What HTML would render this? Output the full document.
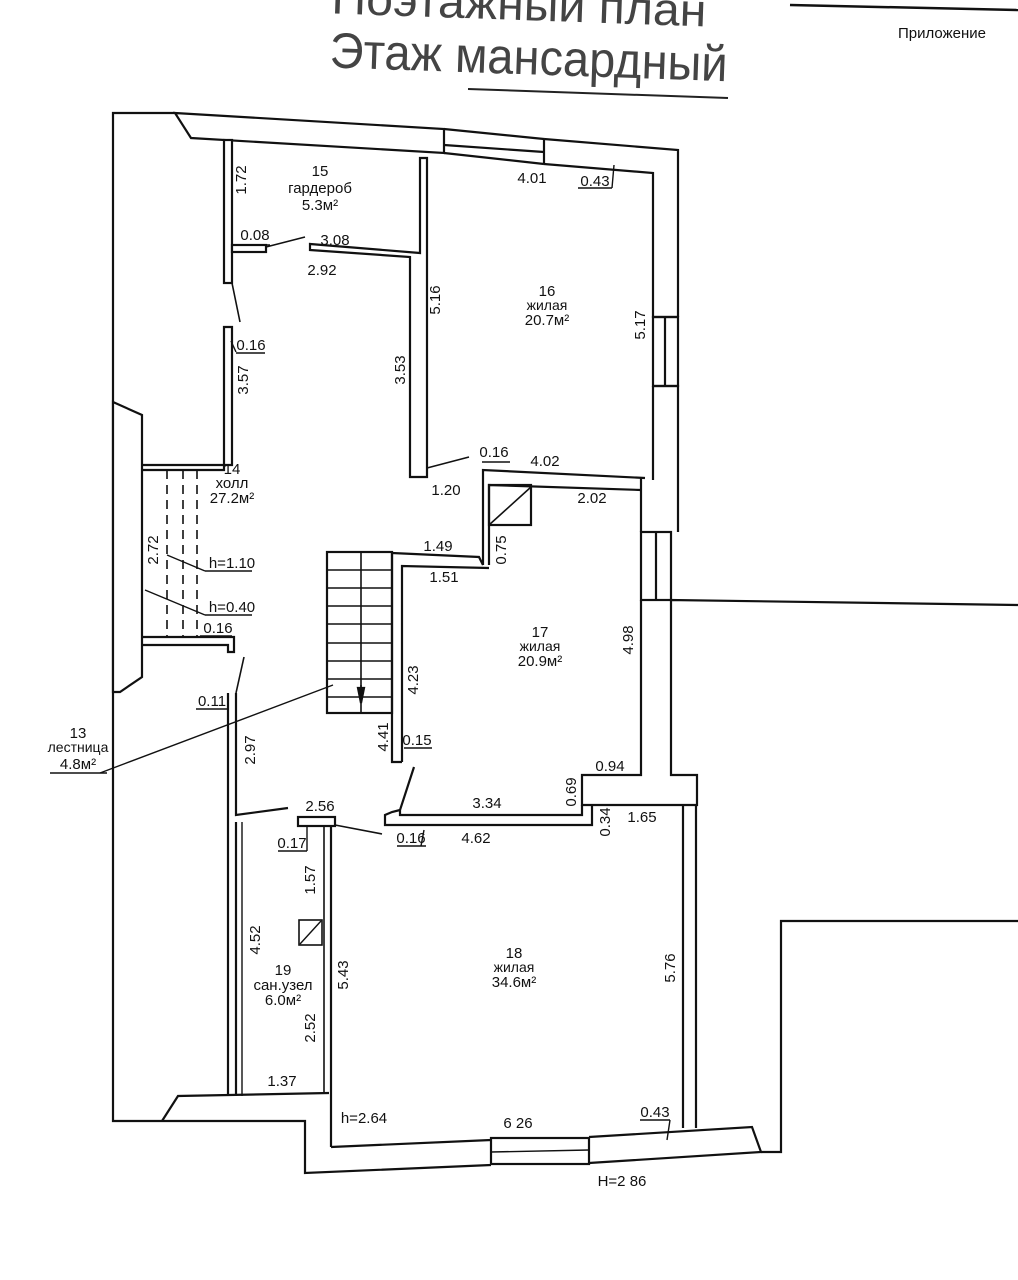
<!DOCTYPE html>
<html><head><meta charset="utf-8"><style>
html,body{margin:0;padding:0;background:#fff;}
svg{display:block;}
text{font-family:"Liberation Sans","DejaVu Sans",sans-serif;fill:#111;}
.t{font-size:15px;text-anchor:middle;}
.s{font-size:14px;text-anchor:middle;}
</style></head><body>
<svg width="1018" height="1280" viewBox="0 0 1018 1280" xmlns="http://www.w3.org/2000/svg">
<g fill="none" stroke="#111" stroke-width="2.2" stroke-linejoin="miter">
<line x1="790" y1="5" x2="1018" y2="10" stroke-width="2.5"/>
<polyline points="175,113 113,113 113,1121 162,1121"/>
<polygon points="175,113 444,129 444,153 191,138" fill="#fff"/>
<line x1="444" y1="129" x2="544" y2="139"/>
<line x1="444" y1="145" x2="544" y2="152"/>
<line x1="444" y1="153" x2="544" y2="164"/>
<line x1="544" y1="139" x2="544" y2="164"/>
<polyline points="544,139 678,150 678,317"/>
<polyline points="544,164 653,173 653,317 678,317"/>
<rect x="653" y="317" width="25" height="69"/>
<line x1="665" y1="317" x2="665" y2="386"/>
<polyline points="653,386 678,386 678,532"/>
<polyline points="653,386 653,480"/>
<line x1="641" y1="478" x2="641" y2="532"/>
<rect x="641" y="532" width="30" height="68"/>
<line x1="656" y1="532" x2="656" y2="600"/>
<polyline points="641,600 641,775 582,775 582,805 697,805 697,775 671,775 671,600 1018,605"/>
<polyline points="761,1152 781,1152 781,921 1018,921"/>
<line x1="683" y1="805" x2="683" y2="1128"/>
<line x1="696" y1="805" x2="696" y2="1128"/>
<polygon points="113,402 142,415 142,677 120,692 113,692" fill="#fff"/>
<rect x="224" y="140" width="8" height="143" fill="#fff"/>
<polyline points="142,465 232,465 232,327 224,327 224,470 142,470"/>
<line x1="232" y1="283" x2="240" y2="322" stroke-width="1.6"/>
<rect x="232" y="245" width="34" height="7" fill="#fff"/>
<line x1="266" y1="247" x2="305" y2="237" stroke-width="1.6"/>
<polygon points="310,250 410,257 410,477 427,477 427,158 420,158 420,253 310,244" fill="#fff"/>
<line x1="427" y1="468" x2="469" y2="457" stroke-width="1.6"/>
<polyline points="483,565 483,470 645,478"/>
<polyline points="489,565 489,485 641,490"/>
<rect x="489" y="485" width="42" height="40"/>
<line x1="531" y1="487" x2="489" y2="525" stroke-width="1.6"/>
<polyline points="392,553 479,557 483,565"/>
<polyline points="402,762 402,566 489,568"/>
<polyline points="392,553 392,762 402,762"/>
<rect x="327" y="552" width="65" height="161"/>
<line x1="361" y1="552" x2="361" y2="713" stroke-width="1.6"/>
<g stroke-width="1.6">
<line x1="327" y1="570" x2="392" y2="570"/><line x1="327" y1="588" x2="392" y2="588"/>
<line x1="327" y1="606" x2="392" y2="606"/><line x1="327" y1="624" x2="392" y2="624"/>
<line x1="327" y1="643" x2="392" y2="643"/><line x1="327" y1="661" x2="392" y2="661"/>
<line x1="327" y1="679" x2="392" y2="679"/><line x1="327" y1="697" x2="392" y2="697"/>
<line x1="361" y1="685" x2="361" y2="703"/>
</g>
<polygon points="358,688 364,688 361,703" fill="#111"/>
<g stroke-width="1.6" stroke-dasharray="9,6">
<line x1="167" y1="470" x2="167" y2="637"/>
<line x1="183" y1="470" x2="183" y2="637"/>
<line x1="197" y1="470" x2="197" y2="637"/>
</g>
<polyline points="142,637 234,637 234,652 228,652 228,645 142,645"/>
<line x1="244" y1="657" x2="236" y2="693" stroke-width="1.6"/>
<polyline points="228,693 228,1096"/>
<polyline points="236,693 236,815 288,808" />
<line x1="236" y1="822" x2="236" y2="1096"/>
<line x1="242" y1="822" x2="242" y2="1096" stroke-width="1.4"/>
<rect x="298" y="817" width="37" height="9" fill="#fff"/>
<line x1="335" y1="825" x2="382" y2="834" stroke-width="1.6"/>
<line x1="324" y1="826" x2="324" y2="1094" stroke-width="1.6"/>
<line x1="331" y1="826" x2="331" y2="1147"/>
<rect x="299" y="920" width="23" height="25" stroke-width="1.6"/>
<line x1="321" y1="921" x2="300" y2="944" stroke-width="1.4"/>
<polyline points="414,767 400,810 400,815 582,815 582,805"/>
<polyline points="400,810 392,812 385,815 385,825 592,825 592,805"/>
<polyline points="162,1121 178,1096 329,1093"/>
<polyline points="162,1121 305,1121 305,1173 491,1165"/>
<polyline points="331,1147 491,1140"/>
<rect x="491" y="1138" width="98" height="26" fill="none"/>
<line x1="491" y1="1152" x2="589" y2="1150" stroke-width="1.4"/>
<polyline points="589,1137 752,1127 761,1152 589,1163"/>
<g stroke-width="1.4">
<line x1="167" y1="555" x2="205" y2="571"/><line x1="205" y1="571" x2="252" y2="571"/>
<line x1="145" y1="590" x2="205" y2="615"/><line x1="205" y1="615" x2="252" y2="615"/>
<line x1="333" y1="685" x2="100" y2="773"/><line x1="50" y1="773" x2="107" y2="773"/>
<line x1="236" y1="245" x2="270" y2="245"/>
<line x1="578" y1="188" x2="612" y2="188"/><line x1="612" y1="188" x2="614" y2="165"/>
<line x1="231" y1="341" x2="236" y2="352"/><line x1="236" y1="353" x2="265" y2="353"/>
<line x1="482" y1="462" x2="510" y2="462"/>
<line x1="404" y1="748" x2="432" y2="748"/>
<line x1="397" y1="846" x2="426" y2="846"/><line x1="424" y1="830" x2="421" y2="846"/>
<line x1="278" y1="851" x2="307" y2="851"/><line x1="307" y1="851" x2="307" y2="826"/>
<line x1="196" y1="709" x2="228" y2="709"/>
<line x1="200" y1="636" x2="232" y2="636"/>
<line x1="640" y1="1120" x2="670" y2="1120"/><line x1="670" y1="1120" x2="667" y2="1140"/>
</g>
</g>
<g transform="rotate(2 520 50)">
<text x="330" y="20" textLength="375" lengthAdjust="spacingAndGlyphs" style="font-size:46px;fill:#444">Поэтажный план</text>
<text x="330" y="74" textLength="398" lengthAdjust="spacingAndGlyphs" style="font-size:50px;fill:#444">Этаж мансардный</text>
</g>
<line x1="468" y1="89" x2="728" y2="98" stroke="#222" stroke-width="2"/>
<text x="898" y="38" style="font-size:15px">Приложение</text>
<text class="t" x="320" y="176">15</text><text class="t" x="320" y="193">гардероб</text><text class="t" x="320" y="210">5.3м²</text>
<text class="t" x="547" y="296">16</text><text class="s" x="547" y="310">жилая</text><text class="t" x="547" y="325">20.7м²</text>
<text class="t" x="232" y="474">14</text><text class="t" x="232" y="488">холл</text><text class="t" x="232" y="503">27.2м²</text>
<text class="t" x="540" y="637">17</text><text class="s" x="540" y="651">жилая</text><text class="t" x="540" y="666">20.9м²</text>
<text class="t" x="514" y="958">18</text><text class="s" x="514" y="972">жилая</text><text class="t" x="514" y="987">34.6м²</text>
<text class="t" x="283" y="975">19</text><text class="t" x="283" y="990">сан.узел</text><text class="t" x="283" y="1005">6.0м²</text>
<text class="t" x="78" y="738">13</text><text class="s" x="78" y="752">лестница</text><text class="t" x="78" y="769">4.8м²</text>
<g class="t">
<text class="t" x="255" y="240">0.08</text><text class="t" x="335" y="245">3.08</text><text class="t" x="322" y="275">2.92</text>
<text class="t" x="532" y="183">4.01</text><text class="t" x="595" y="186">0.43</text>
<text class="t" x="251" y="350">0.16</text><text class="t" x="494" y="457">0.16</text><text class="t" x="545" y="466">4.02</text>
<text class="t" x="446" y="495">1.20</text><text class="t" x="592" y="503">2.02</text>
<text class="t" x="438" y="551">1.49</text><text class="t" x="444" y="582">1.51</text>
<text class="t" x="232" y="568">h=1.10</text><text class="t" x="232" y="612">h=0.40</text><text class="t" x="218" y="633">0.16</text>
<text class="t" x="212" y="706">0.11</text><text class="t" x="417" y="745">0.15</text>
<text class="t" x="610" y="771">0.94</text><text class="t" x="487" y="808">3.34</text><text class="t" x="642" y="822">1.65</text>
<text class="t" x="476" y="843">4.62</text><text class="t" x="411" y="843">0.16</text>
<text class="t" x="320" y="811">2.56</text><text class="t" x="292" y="848">0.17</text>
<text class="t" x="282" y="1086">1.37</text><text class="t" x="364" y="1123">h=2.64</text>
<text class="t" x="518" y="1128">6 26</text><text class="t" x="655" y="1117">0.43</text><text class="t" x="622" y="1186">H=2 86</text>
</g>
<g class="t">
<text class="t" transform="translate(246,180) rotate(-90)">1.72</text>
<text class="t" transform="translate(440,300) rotate(-90)">5.16</text>
<text class="t" transform="translate(645,325) rotate(-90)">5.17</text>
<text class="t" transform="translate(405,370) rotate(-90)">3.53</text>
<text class="t" transform="translate(248,380) rotate(-90)">3.57</text>
<text class="t" transform="translate(506,550) rotate(-90)">0.75</text>
<text class="t" transform="translate(158,550) rotate(-90)">2.72</text>
<text class="t" transform="translate(633,640) rotate(-90)">4.98</text>
<text class="t" transform="translate(418,680) rotate(-90)">4.23</text>
<text class="t" transform="translate(388,737) rotate(-90)">4.41</text>
<text class="t" transform="translate(576,792) rotate(-90)">0.69</text>
<text class="t" transform="translate(610,822) rotate(-90)">0.34</text>
<text class="t" transform="translate(255,750) rotate(-90)">2.97</text>
<text class="t" transform="translate(315,880) rotate(-90)">1.57</text>
<text class="t" transform="translate(260,940) rotate(-90)">4.52</text>
<text class="t" transform="translate(348,975) rotate(-90)">5.43</text>
<text class="t" transform="translate(675,968) rotate(-90)">5.76</text>
<text class="t" transform="translate(315,1028) rotate(-90)">2.52</text>
</g>
</svg>
</body></html>
